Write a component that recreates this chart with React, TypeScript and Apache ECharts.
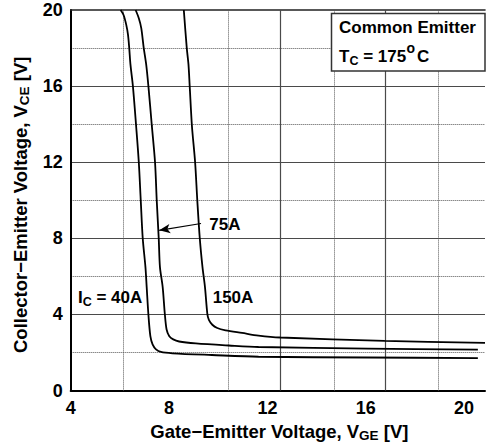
import React, { useEffect, useRef } from "react";
import * as echarts from "echarts";

// Curves: [V_GE (V), V_CE (V)]
const curve40A: [number, number][] = [
  [6.03, 20], [6.15, 19.74], [6.26, 19.22], [6.33, 18.7], [6.38, 18.01], [6.43, 17.14],
  [6.53, 16.0], [6.66, 13.92], [6.77, 12.0], [6.85, 9.97], [6.93, 8.0], [7.04, 6.49],
  [7.09, 5.45], [7.16, 4.0], [7.24, 2.86], [7.33, 2.43], [7.47, 2.17], [7.67, 2.03],
  [8.14, 1.96], [9.74, 1.87], [11.64, 1.78], [16.08, 1.74], [20.56, 1.71],
];
const curve75A: [number, number][] = [
  [6.64, 20], [6.77, 19.57], [6.87, 19.05], [6.97, 18.01], [7.07, 17.14], [7.16, 16],
  [7.3, 13.92], [7.43, 12], [7.5, 9.97], [7.58, 8], [7.63, 6.49], [7.74, 5.45],
  [7.83, 4.0], [7.9, 3.21], [8.01, 2.86], [8.17, 2.69], [8.41, 2.58], [9.09, 2.48],
  [10.43, 2.37], [11.64, 2.29], [16.08, 2.21], [20.56, 2.15],
];
const curve150A: [number, number][] = [
  [8.6, 20], [8.72, 18.01], [8.79, 17.14], [8.84, 16], [8.93, 13.92], [9.06, 12],
  [9.15, 9.97], [9.25, 8], [9.36, 6.49], [9.46, 5.45], [9.56, 4], [9.62, 3.72],
  [9.76, 3.46], [9.96, 3.29], [10.3, 3.17], [10.97, 3.03], [11.64, 2.89], [12.53, 2.79],
  [16.77, 2.61], [20.85, 2.51],
];
const seriesNames = ["IC = 40A", "75A", "150A"];
const xTickValues = [4, 8, 12, 16, 20];
const xMin = 4;
const xMax = 20.85;
const yMin = 0;
const yMax = 20;
const yInterval = 4;
const xDottedGrid = [6.12, 10.4, 14.7, 18.94];
const xSolidGrid = [12.53, 16.78];
const arrow75A: [number, number][] = [[9.3, 8.78], [7.6, 8.42]];

const FONT = "'Liberation Sans', Arial, Helvetica, sans-serif";

export default function App() {
  const ref = useRef<HTMLDivElement>(null);
  useEffect(() => {
    if (!ref.current) return;
    const chart = echarts.init(ref.current, undefined, { renderer: "svg" });
    const mainTok = { fontSize: 18.5, fontWeight: "bold", fontFamily: FONT, color: "#000", lineHeight: 22, verticalAlign: "middle" };
    const subTok = { fontSize: 13.5, fontWeight: "bold", fontFamily: FONT, color: "#000", lineHeight: 12, verticalAlign: "bottom" };
    const annTok = { fontSize: 17, fontWeight: "bold", fontFamily: FONT, fill: "#000", color: "#000", lineHeight: 22, verticalAlign: "middle" };
    const annSub = { fontSize: 12.5, fontWeight: "bold", fontFamily: FONT, fill: "#000", color: "#000", lineHeight: 12, verticalAlign: "bottom" };
    const annText = (text: string, x: number, y: number, size = 17) => ({
      type: "text",
      z: 101,
      x,
      y,
      style: { text, fontSize: size, fontWeight: "bold", fontFamily: FONT, fill: "#000", verticalAlign: "middle" },
    });
    const lineSeries = (name: string, data: [number, number][], extra: any = {}) => ({
      type: "line",
      name,
      data,
      symbol: "none",
      smooth: 0.3,
      clip: true,
      lineStyle: { color: "#000", width: 1.8 },
      emphasis: { disabled: true },
      z: 3,
      ...extra,
    });
    chart.setOption({
      animation: false,
      backgroundColor: "#fff",
      grid: { left: 70.7, right: 0, top: 10, bottom: 52 },
      xAxis: [
        {
          type: "value",
          min: xMin,
          max: xMax,
          interval: 4,
          axisLine: { onZero: false, lineStyle: { color: "#000", width: 2 } },
          axisTick: { show: false },
          splitLine: { show: false },
          axisLabel: {
            color: "#000",
            fontSize: 18,
            fontWeight: "bold",
            fontFamily: FONT,
            margin: 8,
            formatter: (v: number) => (xTickValues.includes(v) ? String(v) : ""),
          },
          name: "{a|Gate−Emitter Voltage, V}{b|GE}{a| [V]}",
          nameLocation: "middle",
          nameGap: 27.5,
          nameTextStyle: { padding: [0, 0, 0, 3], rich: { a: mainTok, b: subTok } },
        },
        {
          type: "value",
          position: "top",
          min: xMin,
          max: xMax,
          interval: 4,
          axisLine: { onZero: false, lineStyle: { color: "#222", width: 1.6 } },
          axisTick: { show: false },
          axisLabel: { show: false },
          splitLine: { show: false },
        },
      ],
      yAxis: {
        type: "value",
        min: yMin,
        max: yMax,
        interval: yInterval,
        axisLine: { show: true, onZero: false, lineStyle: { color: "#000", width: 2 } },
        axisTick: { show: false },
        axisLabel: { color: "#000", fontSize: 18, fontWeight: "bold", fontFamily: FONT, margin: 8 },
        splitLine: { show: true, showMaxLine: false, lineStyle: { color: "#4a4a4a", width: 1.2 } },
        minorTick: { show: false, splitNumber: 2 },
        minorSplitLine: { show: true, lineStyle: { color: "#555", width: 1, type: "dotted" } },
        name: "{a|Collector−Emitter Voltage, V}{b|CE}{a| [V]}",
        nameLocation: "middle",
        nameGap: 35.7,
        nameRotate: 90,
        nameTextStyle: { padding: [0, 9, 0, 0], rich: { a: mainTok, b: subTok } },
      },
      series: [
        lineSeries(seriesNames[0], curve40A, {
          markLine: {
            silent: true,
            z: 1,
            symbol: ["none", "none"],
            label: { show: false },
            emphasis: { disabled: true },
            data: [
              ...xDottedGrid.map((v) => ({ xAxis: v, lineStyle: { type: "dotted", color: "#555", width: 1 } })),
              ...xSolidGrid.map((v) => ({ xAxis: v, lineStyle: { type: "solid", color: "#4a4a4a", width: 1.2 } })),
            ],
          },
        }),
        lineSeries(seriesNames[1], curve75A, {
          markLine: {
            silent: true,
            z: 4,
            symbol: ["none", "arrow"],
            symbolSize: [7, 11],
            label: { show: false },
            emphasis: { disabled: true },
            lineStyle: { color: "#000", width: 1.2, type: "solid" },
            data: [[{ coord: arrow75A[0] }, { coord: arrow75A[1] }]],
          },
        }),
        lineSeries(seriesNames[2], curve150A),
      ],
      graphic: [
        {
          type: "rect",
          z: 100,
          shape: { x: 331.5, y: 13.5, width: 153.5, height: 57.5 },
          style: { fill: "#fff", stroke: "#333", lineWidth: 1.5 },
        },
        annText("Common Emitter", 339, 27.3),
        {
          type: "text",
          z: 101,
          x: 339,
          y: 56.3,
          style: {
            text: "{m|T}{s|C}{m| = 175}",
            verticalAlign: "middle",
            rich: { m: annTok, s: annSub },
          },
        },
        annText("o", 406.5, 48, 14),
        annText("C", 417, 56.3),
        {
          type: "text",
          z: 101,
          x: 78,
          y: 297,
          style: { text: "{m|I}{s|C}{m| = 40A}", verticalAlign: "middle", rich: { m: annTok, s: annSub } },
        },
        annText("150A", 212.7, 297),
        annText("75A", 209.3, 224),
      ],
    });
    return () => chart.dispose();
  }, []);
  return (
    <div
      ref={ref}
      style={{ position: "fixed", left: 0, top: 0, width: 488, height: 447, background: "#fff" }}
    />
  );
}
